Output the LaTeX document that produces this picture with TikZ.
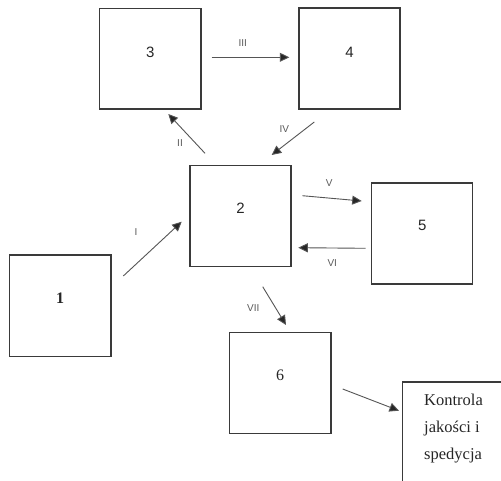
\documentclass[tikz,border=0pt]{standalone}
\usepackage{fontspec}
\setmainfont{Liberation Serif}
\newfontfamily\sansfam{Liberation Sans}
\usetikzlibrary{arrows.meta}
\definecolor{framecol}{HTML}{3A3A3A}
\definecolor{arrowcol}{HTML}{555555}
\definecolor{numcol}{HTML}{5A5A5A}
\tikzset{
  stage/.style={draw=framecol, line width=1.3pt, fill=white, minimum width=101pt,
    minimum height=101pt, inner sep=0pt, outer sep=0pt},
  sansnum/.style={font=\sansfam\fontsize{15}{18}\selectfont, text=black!85},
  serifnum/.style={font=\fontsize{16}{19}\selectfont, text=black!85},
  flow/.style={draw=arrowcol, line width=0.9pt,
    -{Triangle[length=9.5pt,width=9pt,fill=black!85]}},
  roman/.style={font=\sansfam\fontsize{10}{12}\selectfont, text=numcol, inner sep=0pt}
}
\begin{document}
\begin{tikzpicture}[x=1pt,y=-1pt]
\useasboundingbox (0,0) rectangle (501,481);
\clip (0,0) rectangle (501,481);
\fill[white] (0,0) rectangle (501,481);

% process stages
\node[stage, minimum width=101.7pt, minimum height=100.7pt,
  label={[sansnum, yshift=6.5pt]center:3}] (b3) at (150.2,58.7) {};
\node[stage, label={[sansnum, yshift=6.5pt]center:4}] (b4) at (349.5,58.5) {};
\node[stage, label={[sansnum, yshift=7.5pt]center:2}] (b2) at (240.5,215.7) {};
\node[stage, label={[sansnum, yshift=8.5pt]center:5}] (b5) at (422.2,233.5) {};
\node[stage, minimum width=101.7pt, minimum height=101.7pt,
  label={[serifnum, yshift=7.5pt]center:\textbf{1}}] (b1) at (60.2,305.8) {};
\node[stage, minimum width=101.7pt,
  label={[serifnum, yshift=8pt]center:6}] (b6) at (280.2,382.8) {};

% final stage, running past the page edge
\node[stage, line width=1.1pt, anchor=north west, minimum width=150pt,
  minimum height=150pt] (kontrola) at (402.7,382) {};
\node[anchor=north west, inner sep=0pt, align=left, text=black!85,
  font=\fontsize{16.5}{27.3}\selectfont] (ktext)
  at ([xshift=21.3pt, yshift=-11.4pt]kontrola.north west)
  {Kontrola\\jakości i\\spedycja};

% material flow
\draw[flow] ([xshift=12.25pt, yshift=29.8pt]b1.east)
  -- ([xshift=-8.3pt, yshift=-6pt]b2.west);
\draw[flow] ([xshift=-35.5pt, yshift=11.9pt]b2.north)
  -- ([xshift=18.1pt, yshift=-4.95pt]b3.south);
\draw[flow] ([xshift=10.65pt, yshift=1.4pt]b3.east)
  -- ([xshift=-9.7pt, yshift=1.2pt]b4.west);
\draw[flow] ([xshift=-35.2pt, yshift=-13pt]b4.south)
  -- ([xshift=31.2pt, yshift=10.2pt]b2.north);
\draw[flow] ([xshift=11.3pt, yshift=20pt]b2.east)
  -- ([xshift=-10pt, yshift=32.5pt]b5.west);
\draw[flow] ([xshift=-6pt, yshift=-14.8pt]b5.west)
  -- ([xshift=7.3pt, yshift=-32pt]b2.east);
\draw[flow] ([xshift=22.2pt, yshift=-20.5pt]b2.south)
  -- ([xshift=5.8pt, yshift=7.3pt]b6.north);
\draw[flow] ([xshift=11.65pt, yshift=-6.2pt]b6.east)
  -- ([xshift=-3.7pt, yshift=-28.7pt]kontrola.north west);

% flow labels
\node[roman] (lI) at (136,231.7) {I};
\node[roman] (lII) at (180,143.3) {II};
\node[roman] (lIII) at (242.7,43.3) {III};
\node[roman] (lIV) at (284.3,129.3) {IV};
\node[roman] (lV) at (329.3,183.3) {V};
\node[roman] (lVI) at (332.3,262.7) {VI};
\node[roman] (lVII) at (253.3,308.3) {VII};
\end{tikzpicture}
\end{document}
